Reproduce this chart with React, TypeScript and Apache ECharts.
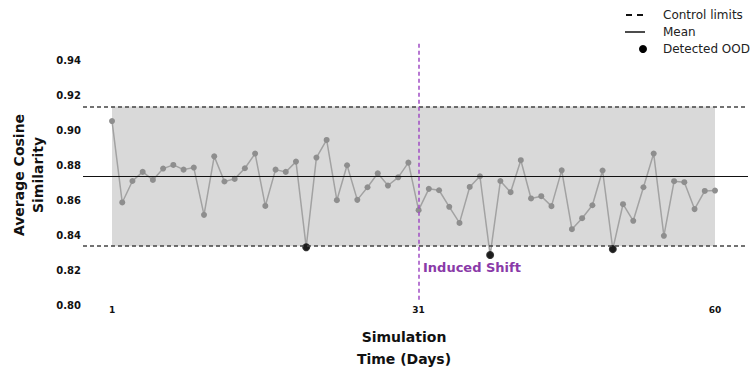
import { useEffect, useRef } from "react";
import * as echarts from "echarts";

// Average cosine similarity per simulation day (day 1..60)
const similarity = [
  0.9053, 0.8587, 0.871, 0.8762, 0.8716, 0.8781, 0.8802, 0.8775, 0.8787, 0.8516,
  0.8851, 0.8707, 0.8722, 0.8783, 0.8867, 0.8567, 0.8775, 0.8762, 0.8821, 0.8331,
  0.8844, 0.8945, 0.86, 0.88, 0.8602, 0.8674, 0.8754, 0.8684, 0.8731, 0.8815,
  0.8543, 0.8665, 0.8657, 0.8562, 0.847, 0.8676, 0.8737, 0.8286, 0.871, 0.8646,
  0.8829, 0.861, 0.8623, 0.8566, 0.8771, 0.8434, 0.8497, 0.8571, 0.877, 0.832,
  0.8577, 0.8482, 0.8674, 0.8867, 0.8396, 0.8709, 0.8703, 0.8549, 0.8653, 0.8655,
];
const oodDays = [20, 38, 50];
const meanValue = 0.8737;
const upperLimit = 0.9137;
const lowerLimit = 0.8337;
const shiftDay = 31;
const xTickLabels = [1, 31, 60];
const yMin = 0.8;
const yMax = 0.95;
const yInterval = 0.02;

const FONT = "DejaVu Sans";

export default function App() {
  const ref = useRef<HTMLDivElement>(null);
  useEffect(() => {
    if (!ref.current) return;
    const chart = echarts.init(ref.current, undefined, { renderer: "svg" });
    const lineData = similarity.map((v, i) => [i + 1, v]);
    const oodData = oodDays.map((d) => [d, similarity[d - 1]]);
    const firstDay = 1;
    const lastDay = similarity.length;
    chart.setOption({
      animation: false,
      backgroundColor: "#ffffff",
      grid: { left: 83, right: 8, top: 43, bottom: 66 },
      xAxis: {
        type: "value",
        min: -1.84,
        max: 63.23,
        axisLine: { show: false },
        axisTick: { show: false },
        splitLine: { show: false },
        axisLabel: {
          customValues: xTickLabels,
          margin: 0,
          fontFamily: FONT,
          fontWeight: "bold",
          fontSize: 9,
          color: "#111",
        },
      },
      yAxis: {
        type: "value",
        min: yMin,
        max: yMax,
        interval: yInterval,
        axisLine: { show: false },
        axisTick: { show: false },
        splitLine: { show: false },
        axisLabel: {
          showMaxLabel: false,
          margin: 2,
          fontFamily: FONT,
          fontWeight: "bold",
          fontSize: 10,
          color: "#111",
          formatter: (v: number) => v.toFixed(2),
        },
      },
      series: [
        {
          type: "line",
          data: lineData,
          z: 3,
          symbol: "circle",
          symbolSize: 6,
          itemStyle: { color: "#8e8e8e" },
          lineStyle: { color: "#a2a2a2", width: 1.5 },
          markArea: {
            silent: true,
            itemStyle: { color: "#d9d9d9", opacity: 1 },
            data: [[{ xAxis: firstDay, yAxis: lowerLimit }, { xAxis: lastDay, yAxis: upperLimit }]],
          },
          markLine: {
            silent: true,
            symbol: "none",
            precision: 4,
            label: { show: false },
            data: [
              { yAxis: upperLimit, lineStyle: { color: "#444", type: [4, 3], width: 1.5 } },
              { yAxis: lowerLimit, lineStyle: { color: "#444", type: [4, 3], width: 1.5 } },
              { yAxis: meanValue, lineStyle: { color: "#111", type: "solid", width: 1.2 } },
              [
                { coord: [shiftDay, 0.803], lineStyle: { color: "#a04cc4", type: [4, 3], width: 1.5 } },
                { coord: [shiftDay, yMax] },
              ],
            ],
          },
        },
        {
          type: "scatter",
          data: oodData,
          z: 4,
          symbol: "circle",
          symbolSize: 8,
          itemStyle: { color: "#000" },
        },
      ],
      graphic: [
        {
          type: "text",
          x: 28,
          y: 175,
          rotation: Math.PI / 2,
          style: {
            text: "Average Cosine\nSimilarity",
            fontFamily: FONT,
            fontWeight: "bold",
            fontSize: 14,
            lineHeight: 19,
            fill: "#111",
            align: "center",
            verticalAlign: "middle",
          },
        },
        {
          type: "text",
          x: 404,
          y: 348,
          style: {
            text: "Simulation\nTime (Days)",
            fontFamily: FONT,
            fontWeight: "bold",
            fontSize: 14,
            lineHeight: 22,
            fill: "#111",
            align: "center",
            verticalAlign: "middle",
          },
        },
        {
          type: "text",
          x: 423,
          y: 267,
          style: {
            text: "Induced Shift",
            fontFamily: FONT,
            fontWeight: "bold",
            fontSize: 13,
            fill: "#8a3aa8",
            align: "left",
            verticalAlign: "middle",
          },
        },
        {
          type: "line",
          shape: { x1: 626, y1: 15, x2: 645, y2: 15 },
          style: { stroke: "#111", lineWidth: 1.8, lineDash: [6, 5] },
        },
        {
          type: "line",
          shape: { x1: 625, y1: 32, x2: 645, y2: 32 },
          style: { stroke: "#111", lineWidth: 1.5 },
        },
        {
          type: "circle",
          shape: { cx: 643, cy: 49, r: 4 },
          style: { fill: "#000" },
        },
        {
          type: "text",
          x: 663,
          y: 15,
          style: { text: "Control limits", fontFamily: FONT, fontSize: 12, fill: "#222", verticalAlign: "middle" },
        },
        {
          type: "text",
          x: 663,
          y: 32,
          style: { text: "Mean", fontFamily: FONT, fontSize: 12, fill: "#222", verticalAlign: "middle" },
        },
        {
          type: "text",
          x: 663,
          y: 49,
          style: { text: "Detected OOD", fontFamily: FONT, fontSize: 12, fill: "#222", verticalAlign: "middle" },
        },
      ],
    });
    return () => chart.dispose();
  }, []);
  return <div ref={ref} style={{ width: 756, height: 371, position: "absolute", left: 0, top: 0 }} />;
}
